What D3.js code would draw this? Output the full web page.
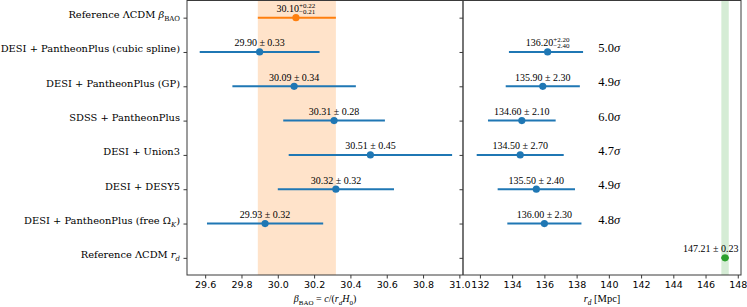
<!DOCTYPE html>
<html>
<head>
<meta charset="utf-8">
<script src="https://cdn.jsdelivr.net/npm/d3@7"></script>
<style>
  body { margin: 0; background: #fff; }
  svg text { white-space: pre; }
</style>
</head>
<body>
<svg id="chart"></svg>
<script>
// rows, top to bottom
var rowLabels = [
    "Reference ΛCDM $β$_{BAO}",
    "DESI + PantheonPlus (cubic spline)",
    "DESI + PantheonPlus (GP)",
    "SDSS + PantheonPlus",
    "DESI + Union3",
    "DESI + DESY5",
    "DESI + PantheonPlus (free Ω_{$K$})",
    "Reference ΛCDM $r$_{$d$}"
]

// beta_BAO panel (rows 0..6)
var betaRows  = [0, 1, 2, 3, 4, 5, 6]
var betaVal   = [30.10, 29.90, 30.09, 30.31, 30.51, 30.32, 29.93]
var betaPlus  = [0.22, 0.33, 0.34, 0.28, 0.45, 0.32, 0.32]
var betaMinus = [0.21, 0.33, 0.34, 0.28, 0.45, 0.32, 0.32]

// r_d panel (rows 1..7)
var rdRows  = [1, 2, 3, 4, 5, 6, 7]
var rdVal   = [136.20, 135.90, 134.60, 134.50, 135.50, 136.00, 147.21]
var rdPlus  = [2.20, 2.30, 2.10, 2.70, 2.40, 2.30, 0.23]
var rdMinus = [2.40, 2.30, 2.10, 2.70, 2.40, 2.30, 0.23]

// tension for rows 1..6
var sigmaRows = [1, 2, 3, 4, 5, 6]
var sigmas    = [5.0, 4.9, 6.0, 4.7, 4.9, 4.8]

var betaTicks = [29.6, 29.8, 30.0, 30.2, 30.4, 30.6, 30.8, 31.0]
var rdTicks   = [132, 134, 136, 138, 140, 142, 144, 146, 148]

var svg_dimensions = {
    width: 747,
    height: 307,
    top: 0.5,
    bottom: 275,
    left: 187,
    mid: 463,
    right: 741
}

var blue = "#1f77b4", orange = "#ff7f0e", green = "#2ca02c"
var serif = "'Liberation Serif', 'DejaVu Serif', serif"
var spineColor = "#3a3a3a"

var svg = d3.select("#chart")
            .attr("width", svg_dimensions.width)
            .attr("height", svg_dimensions.height)
            .style("display", "block")

var xL = d3.scaleLinear()
           .domain([29.5, 31.02])
           .range([svg_dimensions.left, svg_dimensions.mid])

var xR = d3.scaleLinear()
           .domain([130.95, 148.2])
           .range([svg_dimensions.mid, svg_dimensions.right])

var y = d3.scalePoint()
          .domain(d3.range(rowLabels.length))
          .range([svg_dimensions.top, svg_dimensions.bottom])
          .padding(0.5)

// small mathtext-like helper: $..$ = italic, _{..} = subscript
function richText(sel, str, size) {
    var parts = str.split(/(\$[^$]+\$|_\{[^}]*\})/).filter(s => s.length)
    var shift = 0
    parts.forEach(function(p) {
        var t = sel.append("tspan")
        if (p.startsWith("_{")) {
            var inner = p.slice(2, -1)
            t.text(inner.replace(/\$/g, ""))
             .attr("font-size", size * 0.7)
             .attr("dy", size * 0.3 - shift)
            if (inner.startsWith("$")) t.attr("font-style", "italic")
            shift = size * 0.3
        } else {
            t.attr("dy", -shift)
            shift = 0
            if (p.startsWith("$")) t.text(p.slice(1, -1)).attr("font-style", "italic")
            else t.text(p)
        }
    })
}

// shaded reference bands
svg.append("rect")
   .attr("x", xL(betaVal[0] - betaMinus[0]))
   .attr("y", svg_dimensions.top)
   .attr("width", xL(betaVal[0] + betaPlus[0]) - xL(betaVal[0] - betaMinus[0]))
   .attr("height", svg_dimensions.bottom - svg_dimensions.top)
   .attr("fill", orange)
   .attr("fill-opacity", 0.22)

svg.append("rect")
   .attr("x", xR(rdVal[6] - rdMinus[6]))
   .attr("y", svg_dimensions.top)
   .attr("width", xR(rdVal[6] + rdPlus[6]) - xR(rdVal[6] - rdMinus[6]))
   .attr("height", svg_dimensions.bottom - svg_dimensions.top)
   .attr("fill", green)
   .attr("fill-opacity", 0.2)

var betaData = betaRows.map((r, i) => ({row: r, v: betaVal[i], p: betaPlus[i], m: betaMinus[i], c: r == 0 ? orange : blue}))
var rdData = rdRows.map((r, i) => ({row: r, v: rdVal[i], p: rdPlus[i], m: rdMinus[i], c: r == 7 ? green : blue}))

function drawPanel(data, x, labelFn) {
    var g = svg.append("g")
    g.selectAll("line.err")
     .data(data)
     .enter()
     .append("line")
     .attr("x1", d => x(d.v - d.m))
     .attr("x2", d => x(d.v + d.p))
     .attr("y1", d => y(d.row))
     .attr("y2", d => y(d.row))
     .attr("stroke", d => d.c)
     .attr("stroke-width", 2)

    g.selectAll("circle")
     .data(data)
     .enter()
     .append("circle")
     .attr("cx", d => x(d.v))
     .attr("cy", d => y(d.row))
     .attr("r", 3.6)
     .attr("fill", d => d.c)

    data.forEach(function(d) {
        labelFn(g, d, x)
    })
}

function annotate(g, d, x) {
    var cx = x(d.v)
    var by = y(d.row) - 5.5
    if (d.row == 7) {
        // reference r_d label sits left of the edge
        g.append("text")
         .attr("x", cx + 13.5)
         .attr("y", by)
         .attr("text-anchor", "end")
         .attr("font-family", serif)
         .attr("font-size", 10)
         .text(d.v.toFixed(2) + " ± " + d.p.toFixed(2))
        return
    }
    if (d.p == d.m) {
        g.append("text")
         .attr("x", cx)
         .attr("y", by)
         .attr("text-anchor", "middle")
         .attr("font-family", serif)
         .attr("font-size", 10)
         .text(d.v.toFixed(2) + " ± " + d.p.toFixed(2))
        return
    }
    var main = g.append("text")
                .attr("y", by)
                .attr("font-family", serif)
                .attr("font-size", 10)
                .text(d.v.toFixed(2))
    var sup = g.append("text")
               .attr("y", by - 4.5)
               .attr("font-family", serif)
               .attr("font-size", 7)
               .text("+" + d.p.toFixed(2))
    var sub = g.append("text")
               .attr("y", by + 2)
               .attr("font-family", serif)
               .attr("font-size", 7)
               .text("\u2212" + d.m.toFixed(2))
    var wMain = main.node().getComputedTextLength()
    var wScript = Math.max(sup.node().getComputedTextLength(), sub.node().getComputedTextLength())
    var x0 = cx - (wMain + wScript) / 2
    main.attr("x", x0)
    sup.attr("x", x0 + wMain)
    sub.attr("x", x0 + wMain)
}

drawPanel(betaData, xL, annotate)
drawPanel(rdData, xR, annotate)

// tension labels
var sig = svg.append("g")
             .selectAll("text")
             .data(sigmaRows.map((r, i) => ({row: r, s: sigmas[i]})))
             .enter()
             .append("text")
             .attr("x", xR(139.35))
             .attr("y", d => y(d.row))
             .attr("font-family", serif)
             .attr("font-size", 12.5)
sig.append("tspan").text(d => d.s.toFixed(1))
sig.append("tspan").attr("font-style", "italic").text("σ")

// spines
svg.append("rect")
   .attr("x", svg_dimensions.left)
   .attr("y", svg_dimensions.top)
   .attr("width", svg_dimensions.right - svg_dimensions.left)
   .attr("height", svg_dimensions.bottom - svg_dimensions.top)
   .attr("fill", "none")
   .attr("stroke", spineColor)
   .attr("stroke-width", 1)

svg.append("line")
   .attr("x1", svg_dimensions.mid)
   .attr("x2", svg_dimensions.mid)
   .attr("y1", svg_dimensions.top)
   .attr("y2", svg_dimensions.bottom)
   .attr("stroke", spineColor)
   .attr("stroke-width", 1.4)

// axes
function styleAxis(a) {
    a.select(".domain").remove()
    a.selectAll(".tick line").attr("stroke", spineColor)
    a.selectAll(".tick text")
     .attr("fill", "#000")
     .attr("font-family", "'DejaVu Sans', sans-serif")
     .attr("font-size", 9.5)
}

var xAxisL = svg.append("g")
                .attr("transform", `translate(0,${svg_dimensions.bottom})`)
                .call(d3.axisBottom(xL).tickValues(betaTicks).tickFormat(d3.format(".1f")).tickSize(3.5).tickPadding(3))
styleAxis(xAxisL)

var xAxisR = svg.append("g")
                .attr("transform", `translate(0,${svg_dimensions.bottom})`)
                .call(d3.axisBottom(xR).tickValues(rdTicks).tickFormat(d3.format("d")).tickSize(3.5).tickPadding(3))
styleAxis(xAxisR)

var yAxisL = svg.append("g")
                .attr("transform", `translate(${svg_dimensions.left},0)`)
                .call(d3.axisLeft(y).tickSize(3.5).tickPadding(3.5).tickFormat(""))
styleAxis(yAxisL)
yAxisL.selectAll(".tick text")
      .attr("font-family", "'DejaVu Serif', serif")
      .attr("font-size", 9.9)
      .each(function(d) { richText(d3.select(this), rowLabels[d], 9.9) })

var yAxisR = svg.append("g")
                .attr("transform", `translate(${svg_dimensions.mid},0)`)
                .call(d3.axisLeft(y).tickSize(3.5).tickFormat(""))
styleAxis(yAxisR)

// axis titles
var xLabL = svg.append("text")
               .attr("x", (svg_dimensions.left + svg_dimensions.mid) / 2)
               .attr("y", 302)
               .attr("text-anchor", "middle")
               .attr("font-family", serif)
               .attr("font-size", 10)
richText(xLabL, "$β$_{BAO} = $c$/($r$_{$d$}$H$_{0})", 10)

var xLabR = svg.append("text")
               .attr("x", (svg_dimensions.mid + svg_dimensions.right) / 2)
               .attr("y", 302)
               .attr("text-anchor", "middle")
               .attr("font-family", serif)
               .attr("font-size", 10.5)
richText(xLabR, "$r$_{$d$} [Mpc]", 10.5)
</script>
</body>
</html>
